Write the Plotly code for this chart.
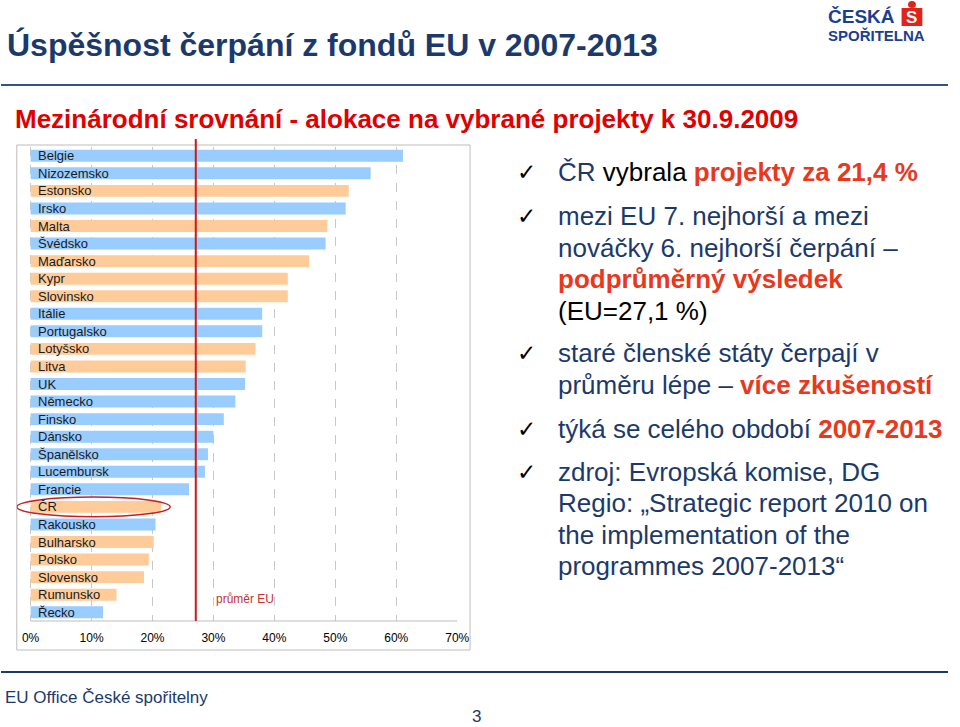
import plotly.graph_objects as go

W, H = 960, 727

countries = ["Belgie", "Nizozemsko", "Estonsko", "Irsko", "Malta", "Švédsko", "Maďarsko",
             "Kypr", "Slovinsko", "Itálie", "Portugalsko", "Lotyšsko", "Litva", "UK",
             "Německo", "Finsko", "Dánsko", "Španělsko", "Lucembursk", "Francie", "ČR",
             "Rakousko", "Bulharsko", "Polsko", "Slovensko", "Rumunsko", "Řecko"]
values = [61.1, 55.8, 52.2, 51.7, 48.7, 48.4, 45.7,
          42.2, 42.2, 38.0, 38.0, 36.9, 35.3, 35.2,
          33.6, 31.7, 30.0, 29.1, 28.6, 26.0, 21.4,
          20.5, 20.2, 19.4, 18.6, 14.1, 11.9]
new_member = ["Estonsko", "Malta", "Maďarsko", "Kypr", "Slovinsko", "Lotyšsko", "Litva",
              "ČR", "Bulharsko", "Polsko", "Slovensko", "Rumunsko"]
eu_average = 27.1
x_ticks = [0, 10, 20, 30, 40, 50, 60, 70]
x_tick_labels = ["0%", "10%", "20%", "30%", "40%", "50%", "60%", "70%"]

BLUE = "#99CCFF"
ORANGE = "#FFCC99"
NAVY = "#1B3A6B"
RED_T = "#E8381D"

def X(px):
    return px / W

def Y(py):
    return 1 - py / H

colors = [ORANGE if c in new_member else BLUE for c in countries]

fig = go.Figure()
fig.add_trace(go.Bar(
    x=values, y=countries, orientation="h",
    marker=dict(color=colors, line=dict(width=0)),
    hoverinfo="x+y", showlegend=False,
))

plot_top, plot_bot = 147, 621
fig.update_layout(
    width=W, height=H,
    margin=dict(l=0, r=0, t=0, b=0),
    paper_bgcolor="white", plot_bgcolor="white",
    bargap=0.32,
    font=dict(family="Liberation Sans, Arial, sans-serif", color="#000"),
    xaxis=dict(
        domain=[X(17), X(463)], range=[-2.27, 70],
        tickvals=x_ticks, ticktext=x_tick_labels,
        showgrid=True, gridcolor="#C8C8C8", griddash="dash", gridwidth=1,
        zeroline=False, showline=False, ticks="",
        tickfont=dict(size=12, color="#000"),
        ticklabelstandoff=8,
        fixedrange=True,
    ),
    yaxis=dict(
        domain=[Y(plot_bot), Y(plot_top)],
        range=[len(countries) - 0.5, -0.5],
        showticklabels=False, showgrid=False, zeroline=False, ticks="",
        fixedrange=True,
    ),
)

shapes = []
# outer chart border
shapes.append(dict(type="rect", xref="paper", yref="paper", x0=X(17), x1=X(476),
                   y0=Y(650), y1=Y(145), line=dict(color="#BDBDBD", width=1), layer="below"))
# bottom axis line
shapes.append(dict(type="line", xref="x", yref="paper", x0=0, x1=70,
                   y0=Y(plot_bot), y1=Y(plot_bot), line=dict(color="#BDBDBD", width=1)))
# EU average line
shapes.append(dict(type="line", xref="x", yref="paper", x0=eu_average, x1=eu_average,
                   y0=Y(plot_bot), y1=Y(139), line=dict(color="#D01818", width=2)))
# ellipse around ČR
ci = countries.index("ČR")
shapes.append(dict(type="circle", xref="x", yref="y", x0=-2.27, x1=values[ci] + 1.5,
                   y0=ci - 0.56, y1=ci + 0.56, line=dict(color="#C82020", width=1.5)))
# title separator line
shapes.append(dict(type="line", xref="paper", yref="paper", x0=X(1), x1=X(960),
                   y0=Y(85), y1=Y(85), line=dict(color="#35558A", width=2)))
# footer line
shapes.append(dict(type="line", xref="paper", yref="paper", x0=X(1), x1=X(960),
                   y0=Y(672), y1=Y(672), line=dict(color="#1B3A6B", width=2)))
# logo red square
shapes.append(dict(type="rect", xref="paper", yref="paper", x0=X(913), x1=X(934),
                   y0=Y(26), y1=Y(8), line=dict(width=0), fillcolor="#E2231A"))
shapes.append(dict(type="circle", xref="paper", yref="paper", x0=X(919.5), x1=X(927.5),
                   y0=Y(8), y1=Y(1), line=dict(width=0), fillcolor="#E2231A"))
fig.update_layout(shapes=shapes)

ann = []
# bar labels
for c in countries:
    ann.append(dict(x=0, y=c, xref="x", yref="y", text=c, showarrow=False,
                    xanchor="left", yanchor="middle", xshift=5,
                    font=dict(size=13, color="#1a1a1a")))
ann.append(dict(x=X(217), y=Y(599), xref="paper", yref="paper", text="průměr EU",
                showarrow=False, xanchor="left", yanchor="middle",
                font=dict(size=12, color="#C83030")))

NARROW = "Liberation Sans Narrow, Arial Narrow, Liberation Sans, sans-serif"
ann.append(dict(x=X(5), y=Y(45), xref="paper", yref="paper",
                text="<b>Úspěšnost čerpání z fondů EU v 2007-2013</b>",
                showarrow=False, xanchor="left", yanchor="middle",
                font=dict(size=32, color=NAVY, family=NARROW)))
ann.append(dict(x=X(13), y=Y(119), xref="paper", yref="paper",
                text="<b>Mezinárodní srovnání - alokace na vybrané projekty k 30.9.2009</b>",
                showarrow=False, xanchor="left", yanchor="middle",
                font=dict(size=26, color="#E00000", family=NARROW)))

# logo text
ann.append(dict(x=X(836), y=Y(17), xref="paper", yref="paper", text="<b>ČESKÁ</b>",
                showarrow=False, xanchor="left", yanchor="middle",
                font=dict(size=19, color="#1B3F8F", family=NARROW)))
ann.append(dict(x=X(836), y=Y(35), xref="paper", yref="paper", text="<b>SPOŘITELNA</b>",
                showarrow=False, xanchor="left", yanchor="middle",
                font=dict(size=15, color="#1B3F8F", family=NARROW)))
ann.append(dict(x=X(923.5), y=Y(17.5), xref="paper", yref="paper", text="<b>S</b>",
                showarrow=False, xanchor="center", yanchor="middle",
                font=dict(size=17, color="white", family="Liberation Sans")))

# right-hand bullet text
def red(s):
    return f"<b><span style='color:{RED_T}'>{s}</span></b>"

lines = [
    (172, True, f"ČR <span style='color:#000'>vybrala</span> " + red("projekty za 21,4 %")),
    (216, True, "mezi EU 7. nejhorší a mezi"),
    (248, False, "nováčky 6. nejhorší čerpání –"),
    (279, False, red("podprůměrný výsledek")),
    (311, False, "<span style='color:#000'>(EU=27,1 %)</span>"),
    (353, True, "staré členské státy čerpají v"),
    (385, False, "průměru lépe – " + red("více zkušeností")),
    (429, True, "týká se celého období " + red("2007-2013")),
    (472, True, "zdroj: Evropská komise, DG"),
    (503, False, "Regio: „Strategic report 2010 on"),
    (535, False, "the implementation of the"),
    (566, False, "programmes 2007-2013“"),
]
for py, bullet, txt in lines:
    ann.append(dict(x=X(563), y=Y(py), xref="paper", yref="paper", text=txt,
                    showarrow=False, xanchor="left", yanchor="middle",
                    font=dict(size=26, color=NAVY, family="Liberation Sans, Arial, sans-serif")))
    if bullet:
        ann.append(dict(x=X(522), y=Y(py), xref="paper", yref="paper", text="✓",
                        showarrow=False, xanchor="left", yanchor="middle",
                        font=dict(size=23, color="#000", family="DejaVu Sans")))

# footer
ann.append(dict(x=X(3), y=Y(697), xref="paper", yref="paper", text="EU Office České spořitelny",
                showarrow=False, xanchor="left", yanchor="middle",
                font=dict(size=17, color=NAVY, family="Liberation Sans, Arial, sans-serif")))
ann.append(dict(x=X(483), y=Y(716), xref="paper", yref="paper", text="3",
                showarrow=False, xanchor="center", yanchor="middle",
                font=dict(size=17, color=NAVY, family="Liberation Sans, Arial, sans-serif")))

fig.update_layout(annotations=ann)
fig.write_html("out.html", config={"displayModeBar": False},
               post_script="document.body.style.margin='0';document.body.style.overflow='hidden';")
